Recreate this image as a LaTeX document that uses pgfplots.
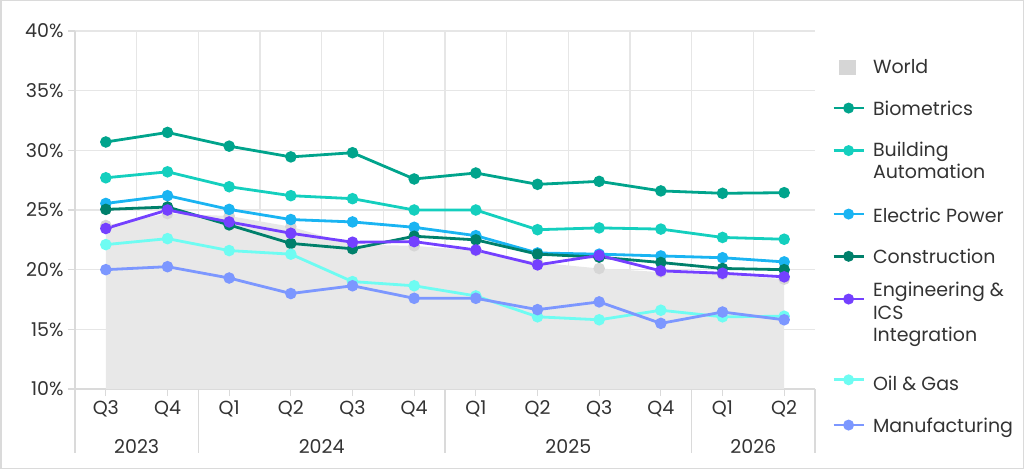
\documentclass[border=0pt]{standalone}
\usepackage{pgfplots}
\pgfplotsset{compat=1.18}
\usepackage{pgfplotstable}
\usepackage{fontspec}
\setmainfont{Poppins}
\definecolor{cBio}{HTML}{00A48C}
\definecolor{cBA}{HTML}{14CFBE}
\definecolor{cEP}{HTML}{1AB4F2}
\definecolor{cCon}{HTML}{00806B}
\definecolor{cEng}{HTML}{7440FF}
\definecolor{cOil}{HTML}{6EFCF2}
\definecolor{cMan}{HTML}{7C97FF}
\definecolor{cWorld}{HTML}{E8E8E8}
\definecolor{cWorldM}{HTML}{D6D6D6}
\definecolor{cGrid}{HTML}{E6E6E6}
\definecolor{cAxis}{HTML}{DADADA}
\definecolor{cText}{HTML}{333333}

\pgfplotstableread{
x world bio ba ep con eng oil man
0 23.7 30.7 27.7 25.55 25.05 23.45 22.1 20.0
1 24.7 31.5 28.2 26.2 25.25 25.0 22.6 20.25
2 24.5 30.35 26.95 25.05 23.75 24.0 21.6 19.3
3 23.6 29.45 26.2 24.2 22.2 23.05 21.3 18.0
4 22.1 29.8 25.95 24.0 21.75 22.3 19.0 18.65
5 22.0 27.6 25.0 23.55 22.8 22.35 18.65 17.6
6 21.6 28.1 25.0 22.85 22.5 21.65 17.8 17.6
7 20.6 27.15 23.35 21.4 21.3 20.4 16.05 16.65
8 20.1 27.4 23.5 21.3 21.05 21.2 15.8 17.3
9 19.8 26.6 23.4 21.15 20.6 19.9 16.6 15.5
10 19.6 26.4 22.7 21.0 20.1 19.7 16.05 16.45
11 19.2 26.45 22.55 20.65 20.0 19.4 16.1 15.8
}\data

\newcommand{\lgt}[1]{\begin{tabular}[b]{@{}l@{}}#1\end{tabular}}
\newcommand{\lgtx}[2]{\raisebox{0pt}[\dimexpr\height-#1\relax]{\begin{tabular}[b]{@{}l@{}}#2\end{tabular}}}
\pgfplotsset{
  legline/.style={legend image code/.code={\draw[mark repeat=2,mark phase=2,##1,line width=2.8pt, mark size=4pt] plot coordinates {(0pt,#1) (15pt,#1) (30pt,#1)};}},
}

\begin{document}
\begin{tikzpicture}[x=1pt,y=1pt]
\useasboundingbox (0,0) rectangle (1024,469);
\draw[color=cAxis, line width=1.5pt] (0.75,0.75) rectangle (1023.25,468.25);
\begin{axis}[
  at={(75pt,80pt)}, anchor=south west,
  scale only axis, width=740pt, height=358pt,
  xmin=-0.5, xmax=11.5, ymin=10, ymax=40,
  clip=false,
  axis x line*=bottom, axis y line*=left,
  axis line style={cAxis, line width=1.2pt, -},
  xtick={0,...,11},
  xticklabels={Q3,Q4,Q1,Q2,Q3,Q4,Q1,Q2,Q3,Q4,Q1,Q2},
  minor xtick={0.5,1.5,...,10.5},
  xminorgrids=true,
  ytick={10,15,...,40},
  yticklabels={10\%,15\%,20\%,25\%,30\%,35\%,40\%},
  ymajorgrids=true,
  major grid style={cGrid, line width=1.2pt},
  minor grid style={cGrid, line width=1.2pt},
  tick align=outside,
  major tick length=7pt,
  minor tick length=0pt,
  tick style={cAxis, line width=1.2pt},
  ticklabel style={font=\fontsize{19}{22}\selectfont, text=cText},
  xticklabel style={yshift=-1pt},
  yticklabel style={xshift=-1pt},
  every axis plot/.append style={line width=2.8pt, mark=*, mark size=4.3pt, mark options={solid}},
  legend cell align=left,
  legend style={at={(1,1)}, anchor=north west, xshift=17pt, yshift=-27pt,
    draw=none, fill=none, inner sep=0pt, row sep=24pt, column sep=8pt,
    nodes={inner sep=0pt, text=cText, font=\fontsize{19}{22.5}\selectfont}},
  legline=0pt,
]
\addplot[fill=cWorld, draw=none, mark=*, mark options={fill=cWorldM, draw=cWorldM},
  legend image code/.code={\fill[cWorldM] (5pt,-8pt) rectangle (22pt,7pt);}]
  table[x=x,y=world]{\data} \closedcycle;
\addlegendentry{\lgt{World}}
\addplot[color=cBio] table[x=x,y=bio]{\data};
\addlegendentry{\lgt{Biometrics}}
\addplot[color=cBA, legline=10pt] table[x=x,y=ba]{\data};
\addlegendentry{\lgt{Building\\Automation}}
\addplot[color=cEP] table[x=x,y=ep]{\data};
\addlegendentry{\lgtx{-2pt}{Electric Power}}
\addplot[color=cCon] table[x=x,y=con]{\data};
\addlegendentry{\lgt{Construction}}
\addplot[color=cEng, legline=17pt] table[x=x,y=eng]{\data};
\addlegendentry{\lgtx{8pt}{Engineering \&\\ICS\\Integration}}
\addplot[color=cOil] table[x=x,y=oil]{\data};
\addlegendentry{\lgtx{-8pt}{Oil \& Gas}}
\addplot[color=cMan] table[x=x,y=man]{\data};
\addlegendentry{\lgt{Manufacturing}}

\draw[cAxis, line width=1.2pt] (axis cs:-0.5,10) -- ++(0pt,-64pt);
\draw[cAxis, line width=1.2pt] (axis cs:1.5,10) -- ++(0pt,-64pt);
\draw[cAxis, line width=1.2pt] (axis cs:5.5,10) -- ++(0pt,-64pt);
\draw[cAxis, line width=1.2pt] (axis cs:9.5,10) -- ++(0pt,-64pt);
\draw[cAxis, line width=1.2pt] (axis cs:11.5,10) -- ++(0pt,-64pt);
\node[font=\fontsize{19}{22}\selectfont, text=cText] at (axis cs:0.5,10) [yshift=-58pt] {2023};
\node[font=\fontsize{19}{22}\selectfont, text=cText] at (axis cs:3.5,10) [yshift=-58pt] {2024};
\node[font=\fontsize{19}{22}\selectfont, text=cText] at (axis cs:7.5,10) [yshift=-58pt] {2025};
\node[font=\fontsize{19}{22}\selectfont, text=cText] at (axis cs:10.5,10) [yshift=-58pt] {2026};
\end{axis}
\end{tikzpicture}
\end{document}
